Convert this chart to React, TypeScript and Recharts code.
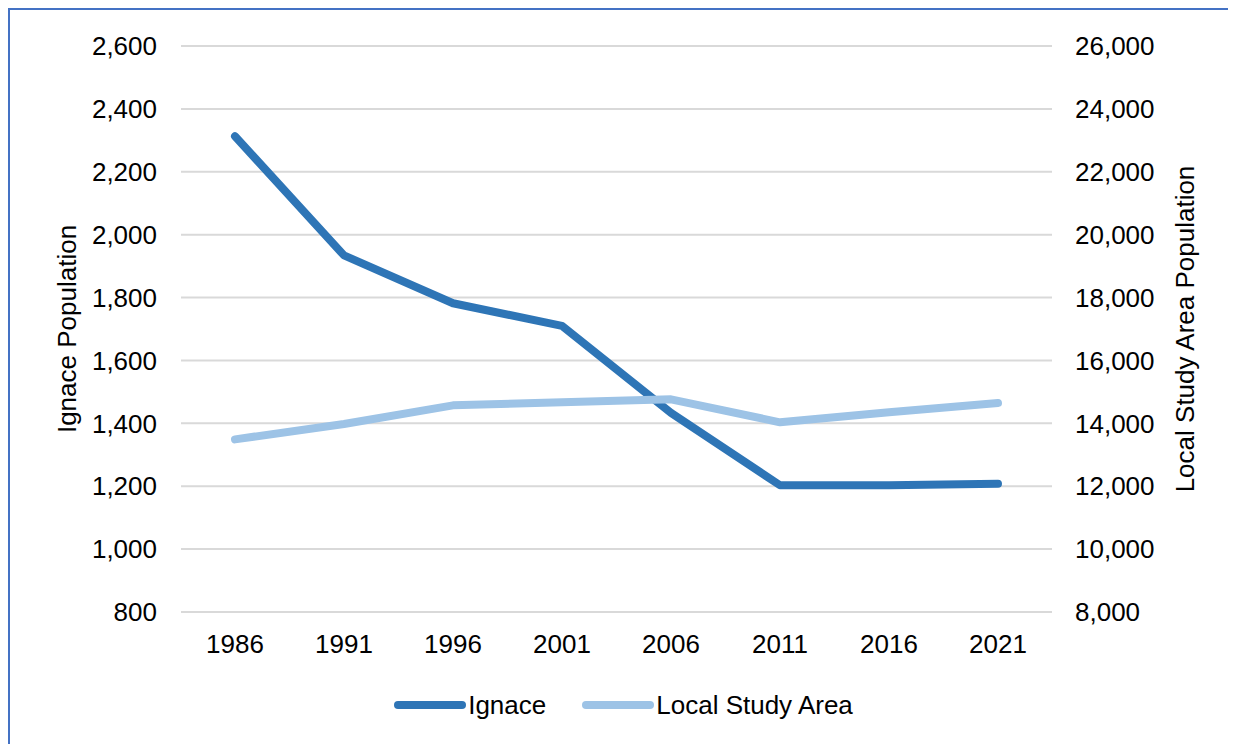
import React from "react";
import { LineChart, Line, XAxis, YAxis, CartesianGrid, Legend } from "recharts";

const years = ["1986", "1991", "1996", "2001", "2006", "2011", "2016", "2021"];
const ignace = [2313, 1934, 1782, 1710, 1433, 1203, 1203, 1208];
const localStudyArea = [13490, 13980, 14572, 14671, 14763, 14032, 14350, 14645];

const leftTicks = [800, 1000, 1200, 1400, 1600, 1800, 2000, 2200, 2400, 2600];
const rightTicks = [8000, 10000, 12000, 14000, 16000, 18000, 20000, 22000, 24000, 26000];

const data = years.map((year, i) => ({
  year,
  ignace: ignace[i],
  lsa: localStudyArea[i],
}));

const FONT = "'Liberation Sans', Arial, sans-serif";
const fmt = (v: number) => v.toLocaleString("en-US");
const tickStyle = { fontSize: 26, fill: "#000", fontFamily: FONT };

const AxisTitle = (dx: number, text: string) => (props: any) => {
  const { viewBox } = props;
  const cx = viewBox.x + dx;
  const cy = viewBox.y + viewBox.height / 2;
  return (
    <text
      x={cx}
      y={cy}
      transform={`rotate(-90, ${cx}, ${cy})`}
      textAnchor="middle"
      dominantBaseline="central"
      fontSize={26}
      fontFamily={FONT}
      fill="#000"
    >
      {text}
    </text>
  );
};

const renderLegend = (props: any) => {
  const { payload } = props;
  return (
    <div style={{ display: "flex", justifyContent: "center", alignItems: "center", height: 40, paddingLeft: 1 }}>
      {payload.map((entry: any, i: number) => (
        <div key={entry.value} style={{ display: "flex", alignItems: "center", marginLeft: i ? 36 : 0 }}>
          <svg width={72} height={12}>
            <line x1={4} y1={6} x2={68} y2={6} stroke={entry.color} strokeWidth={8} strokeLinecap="round" />
          </svg>
          <span style={{ fontSize: 26, fontFamily: FONT, color: "#000", marginLeft: 2 }}>{entry.value}</span>
        </div>
      ))}
    </div>
  );
};

export default function App() {
  return (
    <div
      style={{
        width: 1228,
        height: 736,
        borderTop: "2px solid #4472C4",
        borderLeft: "2px solid #4472C4",
        boxSizing: "border-box",
        background: "#fff",
      }}
    >
      <LineChart width={1226} height={734} data={data} margin={{ top: 36, right: 0, left: 0, bottom: 19 }}>
        <CartesianGrid yAxisId="left" vertical={false} stroke="#D9D9D9" strokeWidth={2} />
        <XAxis
          dataKey="year"
          axisLine={false}
          tickLine={false}
          tickSize={0}
          tickMargin={23}
          height={73}
          padding={{ left: 54, right: 54 }}
          tick={tickStyle}
        />
        <YAxis
          yAxisId="left"
          width={171}
          domain={[800, 2600]}
          ticks={leftTicks}
          tickFormatter={fmt}
          axisLine={false}
          tickLine={false}
          tickSize={0}
          tickMargin={24}
          tick={tickStyle}
          label={{ content: AxisTitle(57, "Ignace Population") }}
        />
        <YAxis
          yAxisId="right"
          orientation="right"
          width={184}
          domain={[8000, 26000]}
          ticks={rightTicks}
          tickFormatter={fmt}
          axisLine={false}
          tickLine={false}
          tickSize={0}
          tickMargin={23}
          tick={{ ...tickStyle, textAnchor: "start" }}
          label={{ content: AxisTitle(133, "Local Study Area Population") }}
        />
        <Legend verticalAlign="bottom" height={40} content={renderLegend} />
        <Line
          yAxisId="left"
          dataKey="ignace"
          name="Ignace"
          stroke="#2E75B6"
          strokeWidth={8}
          strokeLinecap="round"
          strokeLinejoin="round"
          dot={false}
          activeDot={false}
          isAnimationActive={false}
        />
        <Line
          yAxisId="right"
          dataKey="lsa"
          name="Local Study Area"
          stroke="#9DC3E6"
          strokeWidth={8}
          strokeLinecap="round"
          strokeLinejoin="round"
          dot={false}
          activeDot={false}
          isAnimationActive={false}
        />
      </LineChart>
    </div>
  );
}
